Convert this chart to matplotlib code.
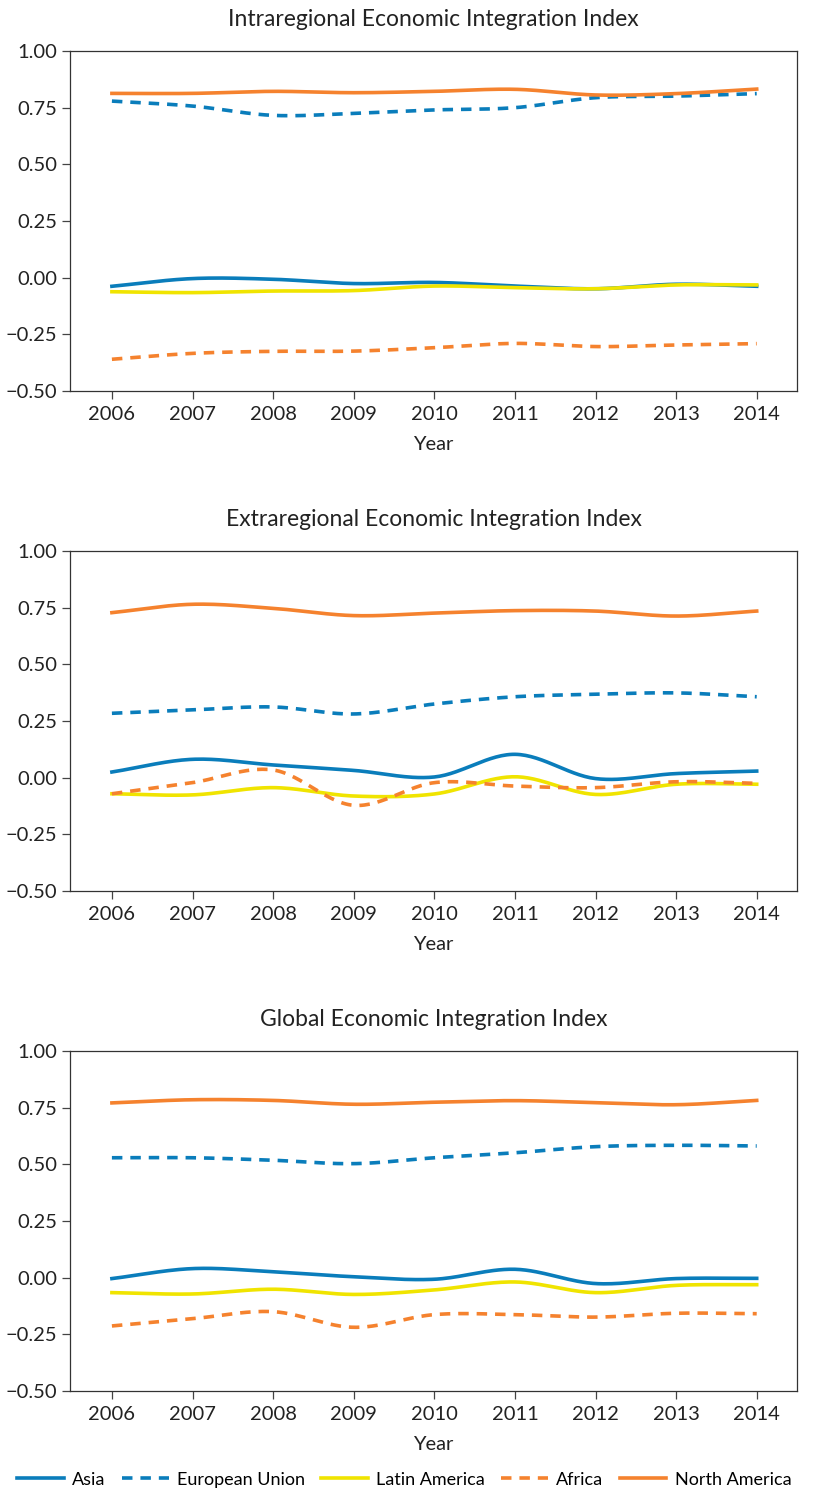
import numpy as np
import matplotlib
matplotlib.use("Agg")
import matplotlib.pyplot as plt

plt.rcParams['font.family'] = ['Lato', 'DejaVu Sans']

years = [2006, 2007, 2008, 2009, 2010, 2011, 2012, 2013, 2014]
titles = ["Intraregional Economic Integration Index",
          "Extraregional Economic Integration Index",
          "Global Economic Integration Index"]

# values, one list per panel
asia = [
    [-0.038, -0.004, -0.007, -0.026, -0.021, -0.037, -0.049, -0.029, -0.038],
    [0.025, 0.081, 0.056, 0.032, 0.003, 0.103, -0.004, 0.018, 0.029],
    [-0.004, 0.040, 0.026, 0.004, -0.007, 0.037, -0.026, -0.004, -0.003],
]
eu = [
    [0.779, 0.757, 0.716, 0.725, 0.740, 0.750, 0.794, 0.801, 0.812],
    [0.284, 0.299, 0.312, 0.281, 0.325, 0.357, 0.368, 0.374, 0.357],
    [0.529, 0.529, 0.518, 0.503, 0.529, 0.551, 0.578, 0.584, 0.581],
]
latam = [
    [-0.062, -0.066, -0.059, -0.057, -0.037, -0.044, -0.049, -0.032, -0.032],
    [-0.071, -0.076, -0.044, -0.081, -0.072, 0.004, -0.074, -0.029, -0.029],
    [-0.066, -0.072, -0.051, -0.074, -0.054, -0.019, -0.066, -0.034, -0.031],
]
africa = [
    [-0.360, -0.334, -0.325, -0.324, -0.309, -0.290, -0.304, -0.297, -0.291],
    [-0.071, -0.022, 0.034, -0.122, -0.022, -0.037, -0.044, -0.018, -0.025],
    [-0.213, -0.181, -0.150, -0.219, -0.163, -0.163, -0.174, -0.157, -0.159],
]
namerica = [
    [0.813, 0.813, 0.822, 0.816, 0.822, 0.831, 0.806, 0.812, 0.832],
    [0.728, 0.765, 0.747, 0.715, 0.726, 0.737, 0.735, 0.713, 0.735],
    [0.771, 0.785, 0.782, 0.765, 0.774, 0.781, 0.772, 0.763, 0.782],
]
yticks = [-0.5, -0.25, 0, 0.25, 0.5, 0.75, 1.0]
ytick_labels = ["\u22120.50", "\u22120.25", "0.00", "0.25", "0.50", "0.75", "1.00"]

BLUE = "#0a7dbb"
ORANGE = "#f5822e"
YELLOW = "#f0e400"

series = [
    ("Asia", asia, BLUE, "-"),
    ("European Union", eu, BLUE, "--"),
    ("Latin America", latam, YELLOW, "-"),
    ("Africa", africa, ORANGE, "--"),
    ("North America", namerica, ORANGE, "-"),
]


def smooth(x, y, n=30):
    """Cubic Hermite curve through the points, only for drawing."""
    x = np.asarray(x, float)
    y = np.asarray(y, float)
    m = np.gradient(y, x)
    xs, ys = [], []
    for i in range(len(x) - 1):
        h = x[i + 1] - x[i]
        t = np.linspace(0, 1, n, endpoint=False)
        h00 = 2 * t**3 - 3 * t**2 + 1
        h10 = t**3 - 2 * t**2 + t
        h01 = -2 * t**3 + 3 * t**2
        h11 = t**3 - t**2
        xs.append(x[i] + t * h)
        ys.append(h00 * y[i] + h10 * h * m[i] + h01 * y[i + 1] + h11 * h * m[i + 1])
    xs.append([x[-1]])
    ys.append([y[-1]])
    return np.concatenate(xs), np.concatenate(ys)


fig = plt.figure(figsize=(8.15, 14.95), dpi=100)
W, H = 815.0, 1495.0
tops = [51, 551, 1051]
handles = []
for k, top in enumerate(tops):
    ax = fig.add_axes([70 / W, 1 - (top + 340) / H, 727 / W, 340 / H])
    for name, data, color, ls in series:
        xs, ys = smooth(years, data[k])
        if ls == "--":
            line, = ax.plot(xs, ys, color=color, lw=2.6, dashes=(2.9, 2.2),
                            label=name)
        else:
            line, = ax.plot(xs, ys, color=color, lw=2.6, label=name)
        if k == 0:
            handles.append(line)
    ax.set_xlim(2005.48, 2014.5)
    ax.set_ylim(-0.5, 1.0)
    ax.set_xticks(years)
    ax.set_yticks(yticks)
    ax.set_yticklabels(ytick_labels)
    ax.tick_params(labelsize=14.5, length=6, width=0.9, color="#444444",
                   labelcolor="#222222", pad=3)
    ax.tick_params(axis="x", pad=5)
    for sp in ax.spines.values():
        sp.set_color("#333333")
        sp.set_linewidth(0.9)
    ax.set_xlabel("Year", fontsize=14.5, color="#222222", labelpad=9.5)
    ax.set_title(titles[k], fontsize=16.5, color="#222222", pad=18)

fig.legend(handles=handles, loc="lower left", bbox_to_anchor=(0.012, 0.0),
           ncol=5, frameon=False, fontsize=13, handlelength=2.6,
           handletextpad=0.45, columnspacing=0.9, borderaxespad=0.0)

fig.savefig("out.png", dpi=100)
